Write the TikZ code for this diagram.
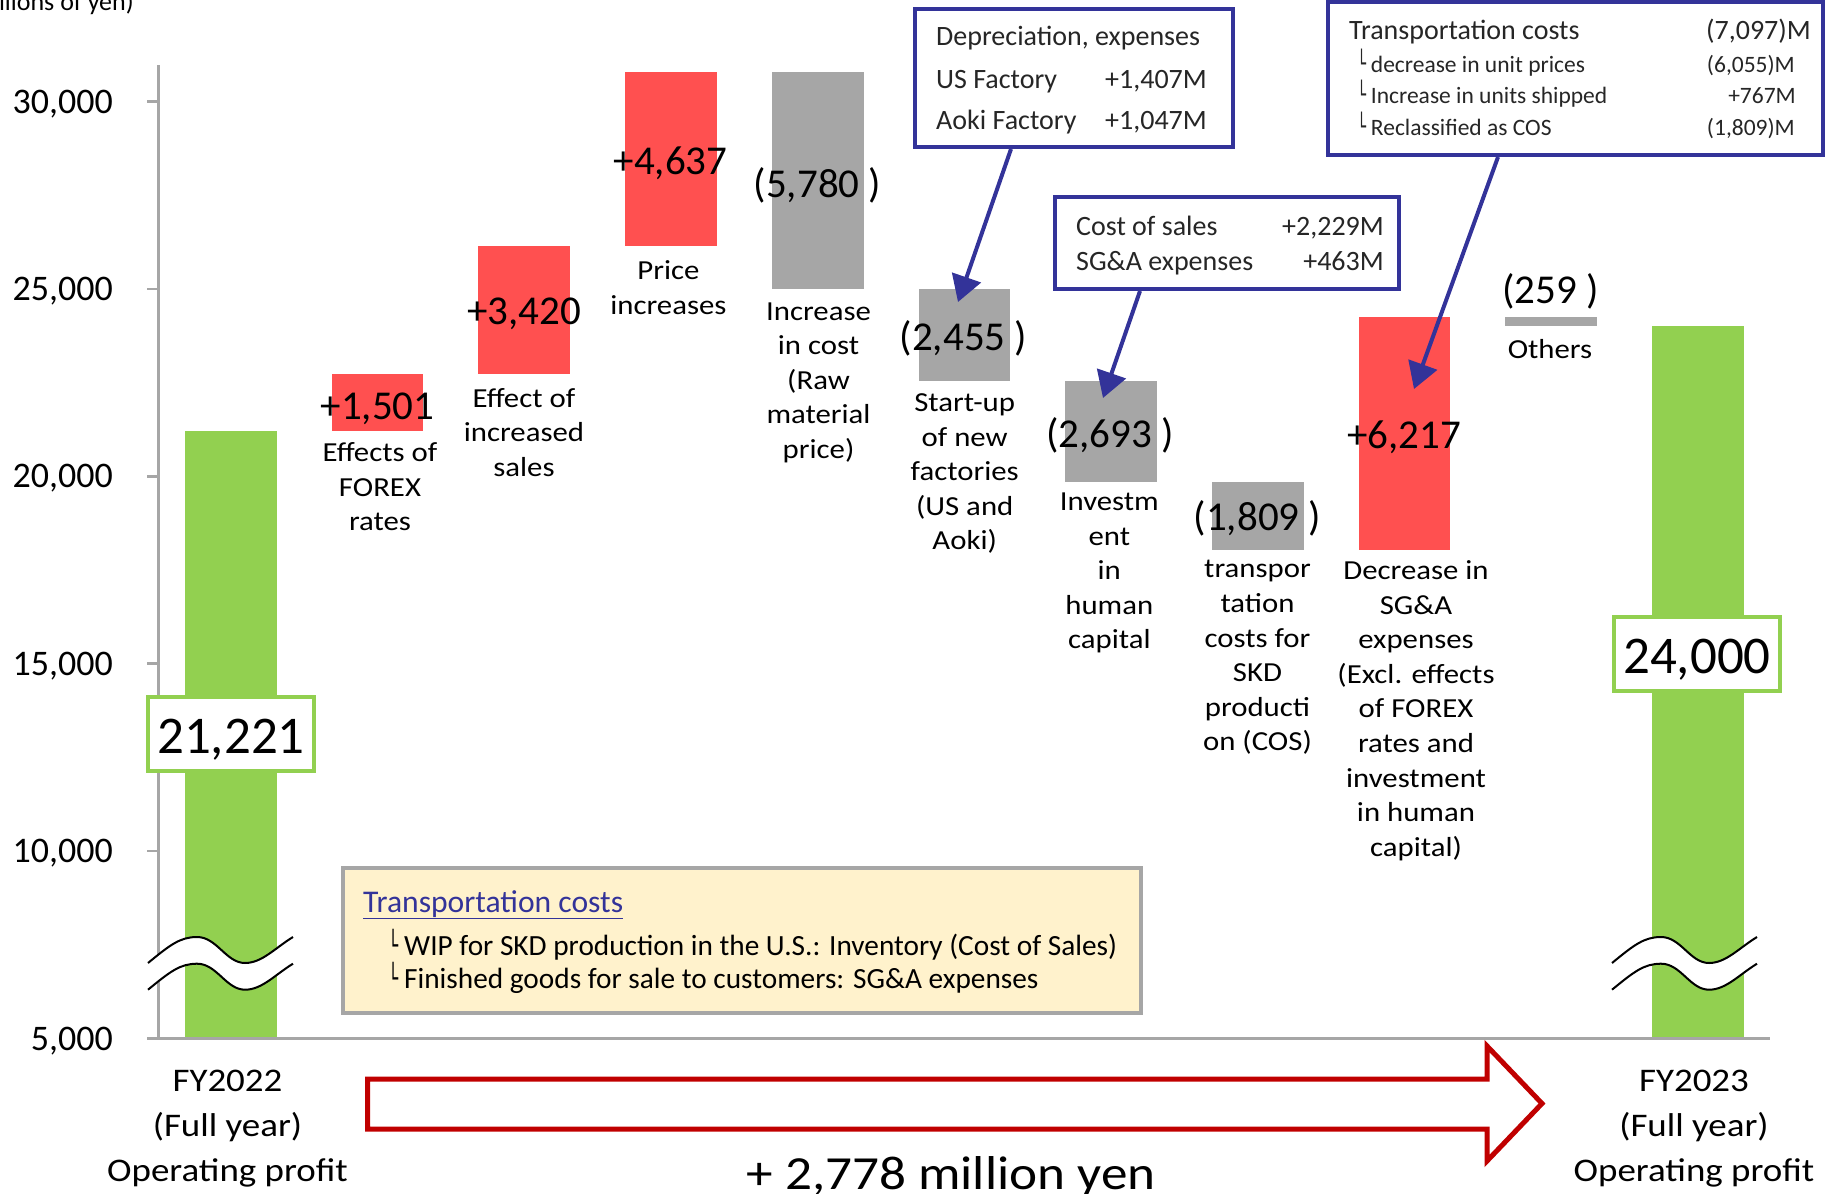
\documentclass[tikz,border=0pt]{standalone}
\usepackage{fontspec}
\setmainfont{Carlito}
\newfontfamily\wide{Carlito}[FakeStretch=1.12]
\newfontfamily\djv{DejaVu Sans}
\usetikzlibrary{arrows.meta,calc}
\definecolor{barred}{HTML}{FF5050}
\definecolor{bargray}{HTML}{A6A6A6}
\definecolor{bargreen}{HTML}{92D050}
\definecolor{callblue}{HTML}{333399}
\definecolor{arrred}{HTML}{C00000}
\definecolor{legfill}{HTML}{FFF2CC}
\definecolor{axisgray}{HTML}{A6A6A6}
\definecolor{txtdark}{HTML}{262626}
\newcommand\Lmk[1]{\scalebox{0.6}[1]{\djv\fontsize{#1}{#1}\selectfont └}\hspace{0.2em}}
\begin{document}
\begin{tikzpicture}[x=1pt,y=-1pt,
  bar/.style={inner sep=0pt, outer sep=0pt, minimum width=91.7pt, anchor=north west},
  lbl/.style={font=\wide\fontsize{27.5}{34.6}\selectfont, align=center, anchor=north, inner sep=0pt, execute at begin node=\strut},
  bottomlbl/.style={font=\wide\fontsize{33}{44.9}\selectfont, align=center, anchor=north, inner sep=0pt, execute at begin node=\strut},
  val/.style={font=\fontsize{41}{49}\selectfont, anchor=base, inner sep=0pt},
  axl/.style={font=\fontsize{36}{43}\selectfont, anchor=base east, inner sep=0pt},
  callbox/.style={draw=callblue, line width=4pt, fill=white, inner sep=0pt},
  ctext/.style={font=\fontsize{28}{33}\selectfont, text=txtdark, inner sep=0pt},
  csub/.style={font=\fontsize{23.5}{28}\selectfont, text=txtdark, inner sep=0pt},
  callarrow/.style={draw=callblue, line width=4pt, -{Triangle[length=26pt,width=30pt]}},
  totbox/.style={draw=bargreen, fill=white, line width=3.5pt, minimum width=166pt, minimum height=74pt, inner sep=0pt, text height=39.5pt, text depth=0pt, font=\fontsize{53}{60}\selectfont},
  squiggle/.pic={
    \fill[white] (0,0) .. controls (22,-18) and (32,-26) .. (49,-26) .. controls (69,-26) and (78,0) .. (97,0) .. controls (114,0) and (127,-15) .. (145,-26)
      -- (145,0.7) .. controls (127,11.7) and (114,26.7) .. (97,26.7) .. controls (78,26.7) and (69,0.7) .. (49,0.7) .. controls (32,0.7) and (22,8.7) .. (0,26.7) -- cycle;
    \draw[black, line width=2pt] (0,0) .. controls (22,-18) and (32,-26) .. (49,-26) .. controls (69,-26) and (78,0) .. (97,0) .. controls (114,0) and (127,-15) .. (145,-26);
    \draw[black, line width=2pt] (0,26.7) .. controls (22,8.7) and (32,0.7) .. (49,0.7) .. controls (69,0.7) and (78,26.7) .. (97,26.7) .. controls (114,26.7) and (127,11.7) .. (145,0.7);
  }
]
\useasboundingbox (0,0) rectangle (1829,1194);

% bars
\node[bar, fill=bargreen, minimum height=608pt] (b1) at (185,430.5) {};
\node[bar, fill=barred, minimum height=56.2pt] (b2) at (331.7,374.3) {};
\node[bar, fill=barred, minimum height=128.2pt] (b3) at (478.4,246.1) {};
\node[bar, fill=barred, minimum height=173.8pt] (b4) at (625.1,72.3) {};
\node[bar, fill=bargray, minimum height=216.6pt] (b5) at (771.8,72.3) {};
\node[bar, fill=bargray, minimum height=92.1pt] (b6) at (918.5,288.9) {};
\node[bar, fill=bargray, minimum height=100.9pt] (b7) at (1065.2,381.0) {};
\node[bar, fill=bargray, minimum height=67.8pt] (b8) at (1211.9,481.9) {};
\node[bar, fill=barred, minimum height=233pt] (b9) at (1358.6,316.7) {};
\node[bar, fill=bargray, minimum height=9.7pt] (b10) at (1505.3,316.7) {};
\node[bar, fill=bargreen, minimum height=712.1pt] (b11) at (1652,326.4) {};

% axes
\draw[axisgray, line width=3pt] (158,65) -- (158,1038.5);
\draw[axisgray, line width=3pt] (147,1038.5) -- (1770,1038.5);
\foreach \yy in {101.5,288.9,476.3,663.7,851.1}
  \draw[axisgray, line width=2.5pt] (147,\yy) -- (158,\yy);
\node[axl] (a30) at (113,113) {30,000};
\node[axl] (a25) at (113,300.4) {25,000};
\node[axl] (a20) at (113,487.8) {20,000};
\node[axl] (a15) at (113,675.2) {15,000};
\node[axl] (a10) at (113,862.6) {10,000};
\node[axl] (a05) at (113,1050) {5,000};
\node[anchor=base east, font=\fontsize{26}{31}\selectfont, inner sep=0pt] (unit) at (134,10) {(Millions of yen)};

% break marks
\pic at (148,963) {squiggle};
\pic at (1612,963) {squiggle};

% totals
\node[totbox] (v1) at (231,734) {21,221};
\node[totbox] (v11) at (1697,654) {24,000};

% values
\node[val] (v2) at (377.5,419) {+1,501};
\node[val] (v3) at (524,324) {+3,420};
\node[val] (v4) at (670.5,174) {+4,637};
\node[val] (v5) at (817.5,197) {(5,780 )};
\node[val] (v6) at (963.5,350) {(2,455 )};
\node[val] (v7) at (1110,447) {(2,693 )};
\node[val] (v8) at (1257.5,530) {(1,809 )};
\node[val] (v9) at (1404,448) {+6,217};
\node[val] (v10) at (1550.5,303) {(259 )};

% category labels
\node[lbl] (l2) at (380,442.5) {Effects of\\FOREX\\rates};
\node[lbl] (l3) at (524,387.8) {Effect of\\increased\\sales};
\node[lbl] (l4) at (668.4,260.6) {Price\\increases};
\node[lbl] (l5) at (818.5,302.3) {Increase\\in cost\\(Raw\\material\\price)};
\node[lbl] (l6) at (964.7,393.5) {Start-up\\of new\\factories\\(US and\\Aoki)};
\node[lbl] (l7) at (1109.3,492.7) {Investm\\ent\\in\\human\\capital};
\node[lbl] (l8) at (1257.5,560.4) {transpor\\tation\\costs for\\SKD\\producti\\on (COS)};
\node[lbl] (l9) at (1416,560.4) {Decrease in\\SG\&A\\expenses\\(Excl. effects\\of FOREX\\rates and\\investment\\in human\\capital)};
\node[lbl] (l10) at (1550,333.8) {Others};

% bottom labels
\node[bottomlbl] (fy22) at (227.5,1069.6) {FY2022\\(Full year)\\Operating profit};
\node[bottomlbl] (fy23) at (1694,1069.6) {FY2023\\(Full year)\\Operating profit};
\draw[arrred, line width=5pt, line join=miter] (367.5,1079) -- (1487,1079) -- (1487,1046) -- (1542,1103.5) -- (1487,1161) -- (1487,1129) -- (367.5,1129) -- cycle;
\node[anchor=base, inner sep=0pt, font=\wide\fontsize{47.5}{56}\selectfont] (diff) at (951,1189) {+ 2,778 million yen};

% legend
\node[draw=axisgray, fill=legfill, line width=3.5pt, minimum width=798pt, minimum height=145pt, inner sep=0pt] (leg) at (742,940.5) {};
\node[anchor=base west, inner sep=0pt, font=\fontsize{31.6}{37}\selectfont, text=callblue] (legt) at (363,912) {\underline{Transportation costs}};
\node[anchor=base west, inner sep=0pt, font=\fontsize{29.3}{34}\selectfont] (leg1) at (388,955) {\Lmk{28}WIP for SKD production in the U.S.: Inventory (Cost of Sales)};
\node[anchor=base west, inner sep=0pt, font=\fontsize{29.3}{34}\selectfont] (leg2) at (388,988) {\Lmk{28}Finished goods for sale to customers: SG\&A expenses};

% callout 1
\node[callbox, minimum width=318pt, minimum height=138pt] (dep) at (1074,78) {};
\node[ctext, anchor=base west] (d1) at (936,45) {Depreciation, expenses};
\node[ctext, anchor=base west] (d2) at (936,88) {US Factory};
\node[ctext, anchor=base east] (d3) at (1207,88) {+1,407M};
\node[ctext, anchor=base west] (d4) at (936,129) {Aoki Factory};
\node[ctext, anchor=base east] (d5) at (1207,129) {+1,047M};
\coordinate (t1) at (958,302);
\draw[callarrow] ([xshift=98pt]dep.south west) -- (t1);

% callout 2
\node[callbox, minimum width=344pt, minimum height=92pt] (cos) at (1227,243) {};
\node[ctext, anchor=base west] (c1) at (1076,235) {Cost of sales};
\node[ctext, anchor=base east] (c2) at (1384,235) {+2,229M};
\node[ctext, anchor=base west] (c3) at (1076,270) {SG\&A expenses};
\node[ctext, anchor=base east] (c4) at (1384,270) {+463M};
\coordinate (t2) at (1103,398);
\draw[callarrow] ([xshift=87pt]cos.south west) -- (t2);

% callout 3
\node[callbox, minimum width=495pt, minimum height=153pt] (tr) at (1575.5,78.5) {};
\node[ctext, anchor=base west] (r1) at (1349,39) {Transportation costs};
\node[ctext, anchor=base east] (r2) at (1811,39) {(7,097)M};
\node[csub, anchor=base west] (r3) at (1357,72) {\Lmk{25}decrease in unit prices};
\node[csub, anchor=base east] (r4) at (1795,72) {(6,055)M};
\node[csub, anchor=base west] (r5) at (1357,103) {\Lmk{25}Increase in units shipped};
\node[csub, anchor=base east] (r6) at (1796,103) {+767M};
\node[csub, anchor=base west] (r7) at (1357,135) {\Lmk{25}Reclassified as COS};
\node[csub, anchor=base east] (r8) at (1795,135) {(1,809)M};
\coordinate (t3) at (1414,389);
\draw[callarrow] ([xshift=172pt]tr.south west) -- (t3);
\end{tikzpicture}
\end{document}
